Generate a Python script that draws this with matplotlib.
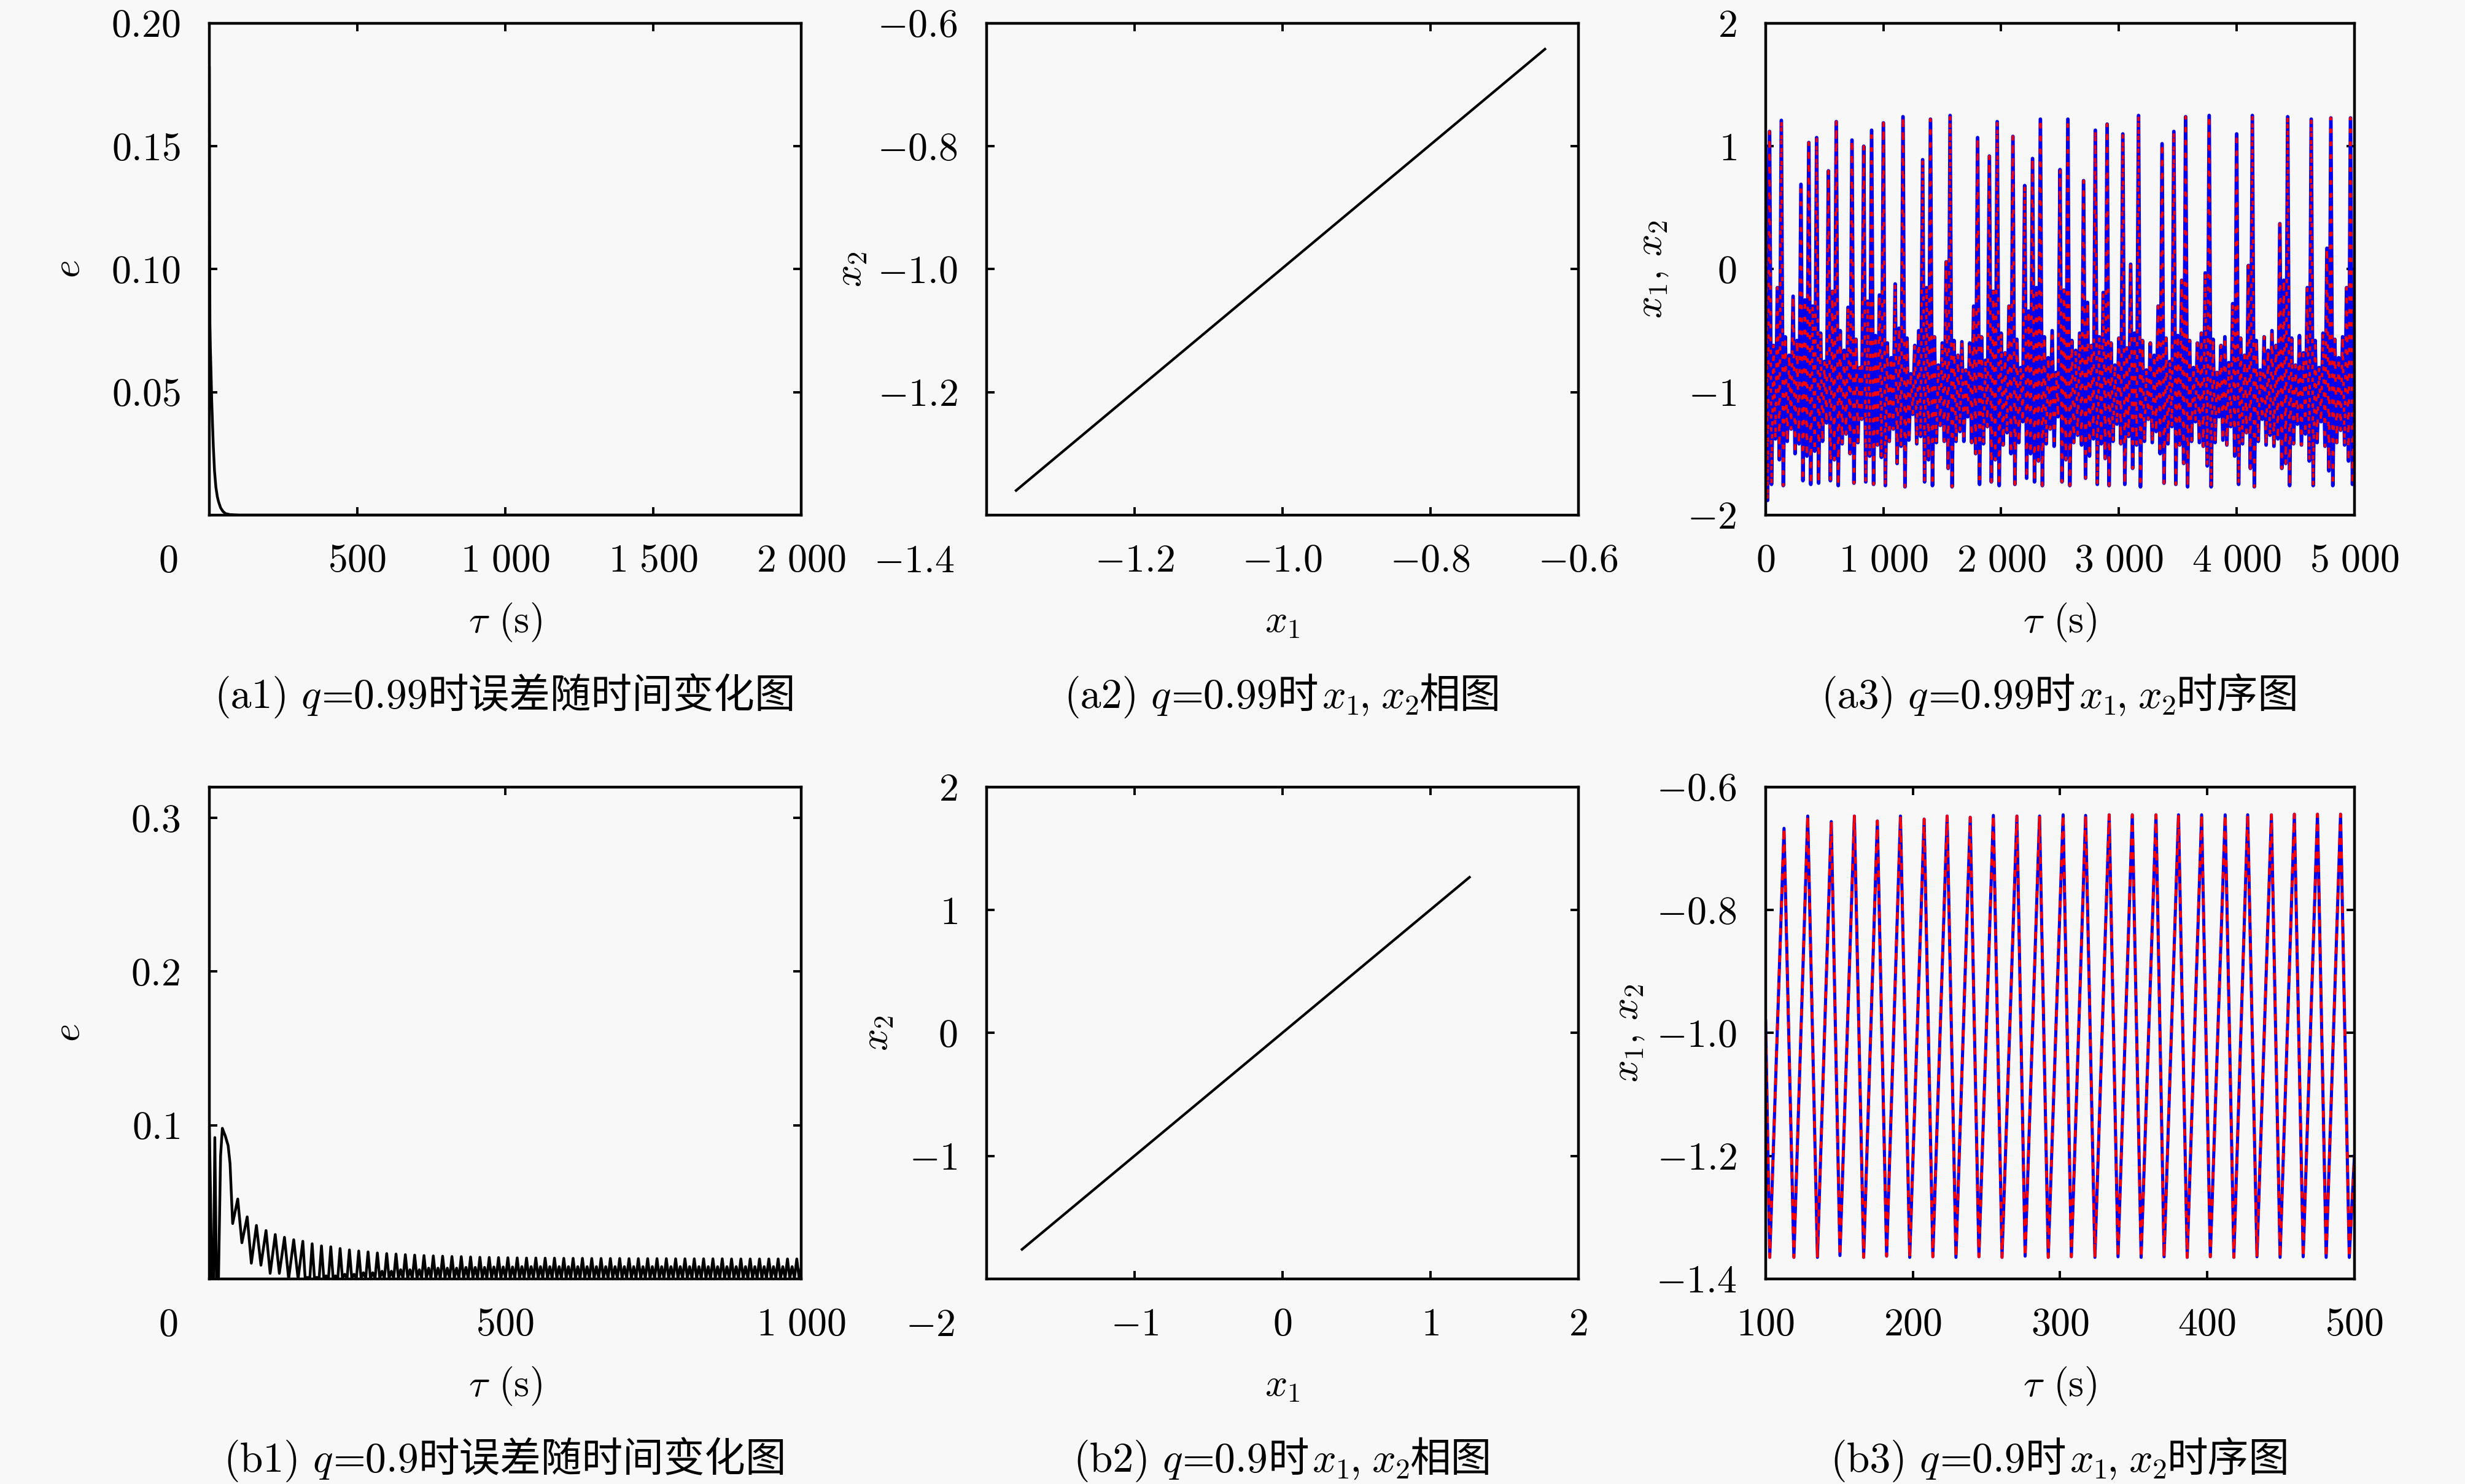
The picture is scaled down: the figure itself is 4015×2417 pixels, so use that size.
import numpy as np
import matplotlib
matplotlib.use('Agg')
import matplotlib.pyplot as plt
from matplotlib.offsetbox import TextArea, HPacker, DrawingArea, AnchoredOffsetbox

plt.rcParams['font.family'] = 'cmr10'
plt.rcParams['mathtext.fontset'] = 'cm'
plt.rcParams['axes.unicode_minus'] = False

# ---------------- data ----------------
# (a1) error e vs time, q = 0.99
a1_t = [0, 1, 2, 3.5, 5.5, 8, 10.5, 13.5, 17.5, 22, 27, 31, 38, 46, 55, 70, 100, 2000]
a1_e = [0.182, 0.120, 0.078, 0.068, 0.059, 0.047, 0.038, 0.028, 0.018, 0.0115,
        0.0075, 0.0055, 0.0030, 0.0015, 0.0006, 0.0002, 0.0, 0.0]

# (a2) phase plot x1 vs x2, q = 0.99
a2_x1 = [-1.36, -0.645]
a2_x2 = [-1.36, -0.642]

# (a3) time series x1, x2, q = 0.99 (successive extrema, 0 .. 5000 s)
a3_x1 = [
    1.00, -1.88, 1.12, -1.75, -0.62, -1.38, -0.15, -1.55, 1.21, -1.76, -0.55, -1.40, -0.70, -1.30, -0.22, -1.50, -0.58, -1.42, 0.69, -1.72,
    -0.25, -1.52, 1.03, -1.75, -0.30, -1.48, 1.07, -1.74, -0.52, -1.40, -0.75, -1.25, 0.80, -1.72, -0.18, -1.55, 1.20, -1.76, -0.50, -1.42,
    -0.66, -1.34, -0.31, -1.50, 1.05, -1.74, -0.57, -1.41, -0.80, -1.22, 1.00, -1.73, -0.26, -1.52, 1.13, -1.75, -0.54, -1.43, -0.21, -1.53,
    1.19, -1.76, -0.60, -1.40, -0.72, -1.30, -0.12, -1.58, -0.48, -1.44, 1.24, -1.77, -0.56, -1.39, -0.85, -1.18, -0.62, -1.42, -0.50, -1.36,
    0.89, -1.73, -0.15, -1.55, 1.22, -1.76, -0.55, -1.41, -0.78, -1.27, -0.60, -1.40, 0.06, -1.62, 1.25, -1.77, -0.58, -1.40, -0.70, -1.32,
    -0.59, -1.40, -0.82, -1.20, -0.60, -1.41, -0.30, -1.50, 1.07, -1.75, -0.55, -1.42, -0.74, -1.28, 0.92, -1.73, -0.18, -1.55, 1.20, -1.76,
    -0.52, -1.43, -0.68, -1.33, -0.30, -1.50, 1.08, -1.75, -0.57, -1.41, -0.80, -1.24, 0.68, -1.70, -0.34, -1.50, 0.90, -1.73, -0.15, -1.56,
    1.22, -1.76, -0.55, -1.42, -0.72, -1.30, -0.50, -1.44, -0.84, -1.20, 0.81, -1.73, -0.17, -1.55, 1.22, -1.76, -0.58, -1.41, -0.66, -1.35,
    -0.52, -1.43, 0.72, -1.70, -0.27, -1.52, -0.62, -1.38, 1.13, -1.75, -0.55, -1.42, -0.19, -1.54, 1.18, -1.76, -0.60, -1.40, -0.78, -1.26,
    -0.56, -1.42, 1.10, -1.75, -0.64, -1.36, 0.04, -1.62, -0.52, -1.43, 1.25, -1.77, -0.58, -1.40, -0.82, -1.22, -0.60, -1.41, -0.70, -1.32,
    -0.30, -1.50, 1.02, -1.74, -0.56, -1.42, -0.75, -1.28, 1.12, -1.75, -0.54, -1.43, -0.09, -1.58, 1.24, -1.77, -0.58, -1.40, -0.80, -1.24,
    -0.60, -1.41, -0.52, -1.44, -0.03, -1.60, 1.25, -1.77, -0.57, -1.41, -0.84, -1.20, -0.62, -1.39, -0.55, -1.43, -0.76, -1.28, -0.28, -1.52,
    1.10, -1.75, -0.56, -1.42, -0.70, -1.33, 0.03, -1.62, 1.25, -1.77, -0.58, -1.40, -0.82, -1.22, -0.55, -1.43, -0.66, -1.35, -0.50, -1.44,
    -0.62, -1.38, 0.37, -1.62, -0.09, -1.58, 1.24, -1.76, -0.56, -1.42, -0.78, -1.26, -0.54, -1.43, -0.68, -1.34, -0.15, -1.56, 1.22, -1.76,
    -0.58, -1.41, -0.80, -1.24, -0.52, -1.44, 0.17, -1.64, 1.23, -1.76, -0.57, -1.41, -0.72, -1.31, -0.55, -1.43, -0.15, -1.56, 1.23, -1.75,
    -1.05]
a3_x2 = list(a3_x1)  # synchronised: x2 coincides with x1
a3_t = np.linspace(0, 5000, len(a3_x1))

# (b1) error e vs time, q = 0.9
b1_t_start = [0, 2, 4, 7, 9.3, 12, 15.5, 19, 22, 27, 31.8, 35, 39.4, 48, 55, 64, 71,
              79.6, 87.2, 95.8, 102.8, 111.4, 118.3, 127, 134, 142.6, 150]
b1_e_start = [0.100, 0.055, 0.0, 0.0, 0.092, 0.0, 0.0, 0.080, 0.098, 0.093, 0.0867, 0.075,
              0.036, 0.052, 0.0235, 0.0404, 0.0102, 0.0348, 0.0089, 0.0315, 0.0036, 0.0289,
              0.0036, 0.0271, 0.0, 0.0255, 0.0]
b1_peak = [0.0245, 0.0229, 0.0215, 0.0209, 0.0198, 0.0189, 0.0182, 0.0176, 0.0169, 0.0165,
           0.0162, 0.0158, 0.0155, 0.0152, 0.0150, 0.0148, 0.0146, 0.0145, 0.0143, 0.0141,
           0.0140, 0.0139, 0.0138, 0.0137, 0.0136, 0.0136, 0.0135, 0.0135, 0.0134, 0.0134,
           0.0134, 0.0133, 0.0133, 0.0133, 0.0133, 0.0132, 0.0132, 0.0132, 0.0132, 0.0132,
           0.0131, 0.0131, 0.0131, 0.0131, 0.0131, 0.0131, 0.0130, 0.0130, 0.0130, 0.0130,
           0.0130, 0.0130, 0.0130, 0.0130]
b1_bump = [0.001, 0.001, 0.002, 0.002, 0.003, 0.003, 0.004, 0.004, 0.005, 0.005,
           0.006, 0.006, 0.006, 0.007, 0.007, 0.007, 0.007, 0.0075, 0.0075, 0.0075,
           0.0078, 0.0078, 0.0078, 0.008, 0.008, 0.008, 0.008, 0.008, 0.008, 0.008,
           0.008, 0.008, 0.008, 0.008, 0.008, 0.008, 0.008, 0.008, 0.008, 0.008,
           0.008, 0.008, 0.008, 0.008, 0.008, 0.008, 0.008, 0.008, 0.008, 0.008,
           0.008, 0.008, 0.008, 0.008]
b1_floor = 0.0005
b1_osc_start, b1_osc_end = 158.0, 1008.5

# (b2) phase plot x1 vs x2, q = 0.9
b2_x1 = [-1.76, 1.265]
b2_x2 = [-1.76, 1.267]

# (b3) time series x1, x2, q = 0.9 (successive extrema)
b3_t = [100, 102.8, 112.5, 119.2, 128.6, 135.2, 144.6, 150.5, 160.3, 166.6, 175.9,
        182.2, 191.6, 197.9, 207.7, 213.6, 223.3, 229.3, 239.0, 244.9, 254.7,
        260.6, 270.7, 276.3, 286.1, 292.0, 302.1, 307.7, 317.4, 323.7, 333.4,
        339.4, 349.1, 355.1, 365.2, 370.7, 380.5, 386.4, 396.2, 402.1, 412.2,
        418.1, 427.5, 433.8, 443.6, 449.5, 459.2, 465.2, 474.9, 480.8, 490.6,
        496.5, 500]
b3_x1 = [-0.98,
         -1.365, -0.667, -1.365, -0.647, -1.365, -0.656, -1.362, -0.647, -1.365, -0.655,
         -1.363, -0.647, -1.365, -0.652, -1.364, -0.647, -1.365, -0.649, -1.364, -0.646,
         -1.365, -0.647, -1.363, -0.647, -1.365, -0.645, -1.364, -0.646, -1.365, -0.645,
         -1.364, -0.645, -1.365, -0.645, -1.364, -0.645, -1.365, -0.645, -1.364, -0.645,
         -1.365, -0.645, -1.364, -0.645, -1.365, -0.644, -1.364, -0.644, -1.365, -0.644,
         -1.365, -1.20]
b3_x2 = list(b3_x1)  # synchronised: x2 coincides with x1

# ticks / labels
a1_xticks = [500, 1000, 1500, 2000]; a1_xlabels = ['500', '1 000', '1 500', '2 000']
a1_yticks = [0.05, 0.10, 0.15, 0.20]; a1_ylabels = ['0.05', '0.10', '0.15', '0.20']
a2_ticks = [-1.2, -1.0, -0.8, -0.6]; a2_labels = ['-1.2', '-1.0', '-0.8', '-0.6']
a3_xticks = [0, 1000, 2000, 3000, 4000, 5000]; a3_xlabels = ['0', '1 000', '2 000', '3 000', '4 000', '5 000']
a3_yticks = [-2, -1, 0, 1, 2]; a3_ylabels = ['-2', '-1', '0', '1', '2']
b1_xticks = [500, 1000]; b1_xlabels = ['500', '1 000']
b1_yticks = [0.1, 0.2, 0.3]; b1_ylabels = ['0.1', '0.2', '0.3']
b2_ticks = [-1, 0, 1, 2]; b2_labels = ['-1', '0', '1', '2']
b3_xticks = [100, 200, 300, 400, 500]; b3_xlabels = ['100', '200', '300', '400', '500']
b3_yticks = [-1.4, -1.2, -1.0, -0.8, -0.6]; b3_ylabels = ['-1.4', '-1.2', '-1.0', '-0.8', '-0.6']

# ---------------- figure ----------------
BG = '#f8f8f8'
FS = 23
FS_CAP = 24.5
FS_CJK = 24
CJK = 'Noto Sans CJK SC'

fig = plt.figure(figsize=(20.08, 12.085), dpi=200, facecolor=BG)

cols = [0.0849, 0.4001, 0.7161]
widths = [0.2400, 0.2400, 0.2388]
rows = [0.6529, 0.1382]
H = 0.3314


def m(s):
    return '$' + s.replace(' ', r'\ ') + '$'


def make_ax(r, c):
    ax = fig.add_axes([cols[c], rows[r], widths[c], H])
    ax.set_facecolor(BG)
    for s in ax.spines.values():
        s.set_linewidth(1.6)
    ax.tick_params(direction='in', top=True, right=True, length=4.7, width=1.4,
                   pad=17, labelsize=FS)
    return ax


def set_ticks(ax, xt, xl, yt, yl):
    ax.set_xticks(xt, labels=[m(s) for s in xl])
    ax.set_yticks(yt, labels=[m(s) for s in yl])


def corner(ax, s):
    ax.annotate(m(s), xy=(0, 0), xycoords='axes fraction', xytext=(-18.7, -33.5),
                textcoords='offset points', ha='right', va='baseline', fontsize=FS)


def labels(ax, xl, yl, ylx):
    ax.text(0.5, -0.238, xl, transform=ax.transAxes, ha='center', va='baseline', fontsize=FS)
    ax.text(ylx, 0.5, yl, transform=ax.transAxes, ha='center', va='center',
            rotation=90, rotation_mode='anchor', fontsize=FS)


def caption(ax, parts):
    kids = []
    for kind, s in parts:
        if kind == 'gap':
            kids.append(DrawingArea(s, 1, 0, 0))
        elif kind == 'cjk':
            kids.append(TextArea(s, textprops=dict(fontsize=FS_CJK, family=CJK)))
        else:
            kids.append(TextArea(s, textprops=dict(fontsize=FS_CAP)))
    box = HPacker(children=kids, align='baseline', pad=0, sep=0)
    ab = AnchoredOffsetbox(loc='center', child=box, pad=0, borderpad=0, frameon=False,
                           bbox_to_anchor=(0.5, -0.37), bbox_transform=ax.transAxes)
    fig.add_artist(ab)


tau = r'$\tau$ (s)'
x12 = r'$x_1$, $x_2$'

# (a1)
ax = make_ax(0, 0)
ax.plot(a1_t, a1_e, color='black', lw=1.6)
ax.set_xlim(0, 2000); ax.set_ylim(0, 0.2)
set_ticks(ax, a1_xticks, a1_xlabels, a1_yticks, a1_ylabels)
corner(ax, '0')
labels(ax, tau, r'$e$', -0.237)
caption(ax, [('rm', '(a1)'), ('gap', 7), ('rm', '$q$'), ('rm', '=0.99'), ('cjk', '时误差随时间变化图')])

# (a2)
ax = make_ax(0, 1)
ax.plot(a2_x1, a2_x2, color='black', lw=1.5)
ax.set_xlim(-1.4, -0.6); ax.set_ylim(-1.4, -0.6)
set_ticks(ax, a2_ticks, a2_labels, a2_ticks, a2_labels)
corner(ax, '-1.4')
labels(ax, r'$x_1$', r'$x_2$', -0.229)
caption(ax, [('rm', '(a2)'), ('gap', 7), ('rm', '$q$'), ('rm', '=0.99'), ('cjk', '时'), ('gap', 2),
             ('rm', '$x_1$'), ('rm', ','), ('gap', 6), ('rm', '$x_2$'), ('cjk', '相图')])

# (a3)
ax = make_ax(0, 2)
ax.plot(a3_t, a3_x1, color='#0000ee', lw=2.1)
ax.plot(a3_t, a3_x2, color='red', lw=1.4, linestyle=(0, (1.8, 3.6)))
ax.set_xlim(0, 5000); ax.set_ylim(-2, 2)
set_ticks(ax, a3_xticks, a3_xlabels, a3_yticks, a3_ylabels)
labels(ax, tau, x12, -0.192)
caption(ax, [('rm', '(a3)'), ('gap', 7), ('rm', '$q$'), ('rm', '=0.99'), ('cjk', '时'), ('gap', 2),
             ('rm', '$x_1$'), ('rm', ','), ('gap', 6), ('rm', '$x_2$'), ('cjk', '时序图')])

# (b1)
b1_osc_t = np.linspace(b1_osc_start, b1_osc_end, 4 * len(b1_peak) + 1)
b1_osc_e = []
for p, b in zip(b1_peak, b1_bump):
    b1_osc_e += [p, b1_floor, b, b1_floor]
b1_osc_e.append(b1_peak[-1])
b1_t = np.concatenate([b1_t_start, b1_osc_t])
b1_e = np.concatenate([b1_e_start, b1_osc_e])

ax = make_ax(1, 0)
ax.plot(b1_t, b1_e, color='black', lw=1.6)
ax.set_xlim(0, 1000); ax.set_ylim(0, 0.32)
set_ticks(ax, b1_xticks, b1_xlabels, b1_yticks, b1_ylabels)
corner(ax, '0')
labels(ax, tau, r'$e$', -0.237)
caption(ax, [('rm', '(b1)'), ('gap', 7), ('rm', '$q$'), ('rm', '=0.9'), ('cjk', '时误差随时间变化图')])

# (b2)
ax = make_ax(1, 1)
ax.plot(b2_x1, b2_x2, color='black', lw=1.5)
ax.set_xlim(-2, 2); ax.set_ylim(-2, 2)
set_ticks(ax, b2_ticks, b2_labels, b2_ticks, b2_labels)
corner(ax, '-2')
labels(ax, r'$x_1$', r'$x_2$', -0.184)
caption(ax, [('rm', '(b2)'), ('gap', 7), ('rm', '$q$'), ('rm', '=0.9'), ('cjk', '时'), ('gap', 2),
             ('rm', '$x_1$'), ('rm', ','), ('gap', 6), ('rm', '$x_2$'), ('cjk', '相图')])

# (b3)
ax = make_ax(1, 2)
ax.plot(b3_t, b3_x1, color='#0000ee', lw=1.8)
ax.plot(b3_t, b3_x2, color='red', lw=1.6, linestyle=(0, (2.5, 2.5)))
ax.set_xlim(100, 500); ax.set_ylim(-1.4, -0.6)
set_ticks(ax, b3_xticks, b3_xlabels, b3_yticks, b3_ylabels)
labels(ax, tau, x12, -0.232)
caption(ax, [('rm', '(b3)'), ('gap', 7), ('rm', '$q$'), ('rm', '=0.9'), ('cjk', '时'), ('gap', 2),
             ('rm', '$x_1$'), ('rm', ','), ('gap', 6), ('rm', '$x_2$'), ('cjk', '时序图')])

fig.savefig('out.png', dpi=200, facecolor=BG)
